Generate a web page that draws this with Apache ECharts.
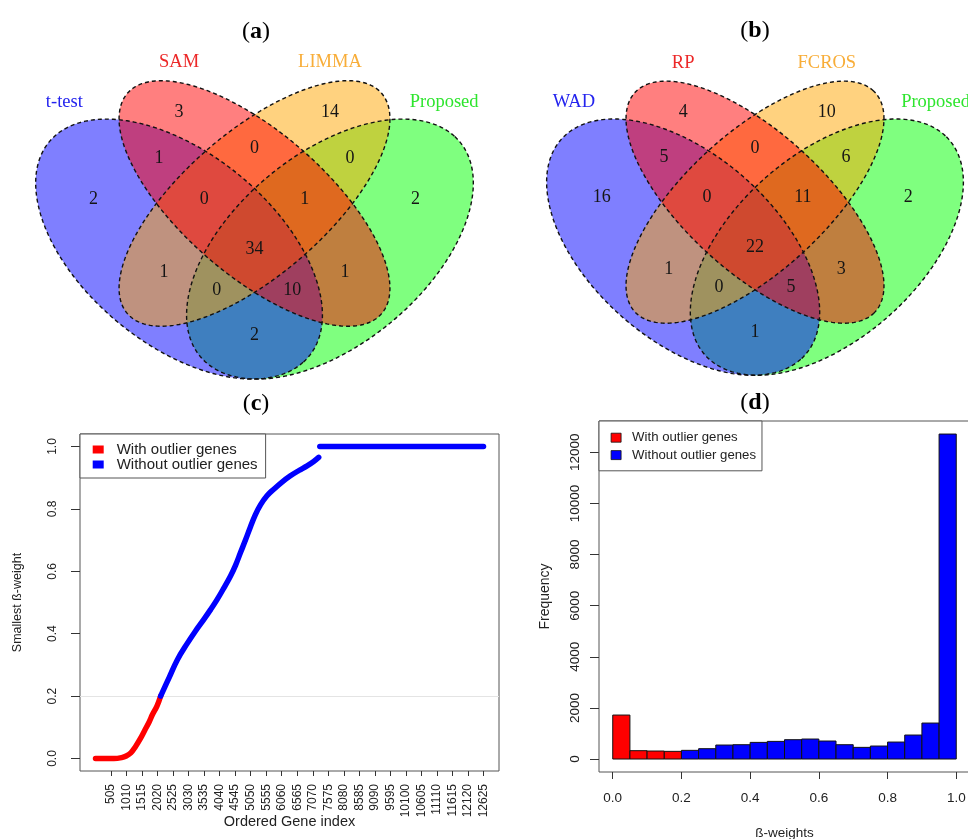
<!DOCTYPE html>
<html><head><meta charset="utf-8">
<script src="https://cdn.jsdelivr.net/npm/echarts@6/dist/echarts.min.js"></script>
<style>html,body{margin:0;padding:0;background:#fff}#c{width:968px;height:839px}</style>
</head><body><div id="c"></div>
<script>
// ---------------- DATA ----------------
// Venn regions: membership code of the 4 sets (set1 set2 set3 set4)
const regionKeys = ['1000','0100','0010','0001','1100','0110','0011','1110','0111','1111','1010','0101','1011','1101','1001'];
const vennACats = ['t-test','SAM','LIMMA','Proposed'];
const vennACounts = [2,3,14,2,1,0,0,0,1,34,1,1,0,10,2];
const vennBCats = ['WAD','RP','FCROS','Proposed'];
const vennBCounts = [16,4,10,2,5,0,6,0,11,22,1,3,0,5,1];

// (c) ordered smallest beta-weights
const outlierIdx = [1,600,850,1000,1150,1300,1450,1600,1750,1850,2000,2120];
const outlierVal = [0,0,0.003,0.008,0.018,0.038,0.062,0.09,0.118,0.14,0.168,0.2];
const inlierIdx = [2120,2400,2661,2987,3250,3526,3750,3961,4180,4394,4560,4719,4880,5044,5200,5369,5580,5801,6070,6343,6620,6886,7100,7263];
const inlierVal = [0.2,0.26,0.316,0.369,0.408,0.446,0.478,0.51,0.547,0.585,0.62,0.66,0.70,0.743,0.781,0.813,0.842,0.863,0.886,0.906,0.923,0.938,0.952,0.965];
const flatIdx = [7300,12625];
const flatVal = [1,1];
const cXTicks = [505,1010,1515,2020,2525,3030,3535,4040,4545,5050,5555,6060,6565,7070,7575,8080,8585,9090,9595,10100,10605,11110,11615,12120,12625];
const cYTicks = [0,0.2,0.4,0.6,0.8,1.0];

// (d) histogram of beta-weights
const binStart = [0.00,0.05,0.10,0.15,0.20,0.25,0.30,0.35,0.40,0.45,0.50,0.55,0.60,0.65,0.70,0.75,0.80,0.85,0.90,0.95];
const binCount = [1720,326,313,300,339,404,547,560,651,690,756,782,704,560,456,508,664,938,1407,12715];
const binOutlier = [1,1,1,1,0,0,0,0,0,0,0,0,0,0,0,0,0,0,0,0];
const dXTicks = [0,0.2,0.4,0.6,0.8,1.0];
const dYTicks = [0,2000,4000,6000,8000,10000,12000];
const seriesNames = ['With outlier genes','Without outlier genes'];

// ---------------- LAYOUT / STYLE ----------------
const ellipseGeom = [
  {cx:0.35, cy:0.47, a:0.35, b:0.20, ang:-45},
  {cx:0.50, cy:0.57, a:0.35, b:0.15, ang:-45},
  {cx:0.50, cy:0.57, a:0.35, b:0.15, ang:45},
  {cx:0.65, cy:0.47, a:0.35, b:0.20, ang:45}
];
const fillOrder = [3,0,2,1];
const setFill = ['rgba(0,0,255,0.5)','rgba(255,0,0,0.5)','rgba(255,165,0,0.5)','rgba(0,255,0,0.5)'];
const catColors = ['#2424ee','#ec2828','#f8ad38','#2ee52e'];
const labelPos = {
  '1000':[0.18,0.58],'0100':[0.35,0.77],'0010':[0.65,0.77],'0001':[0.82,0.58],
  '1100':[0.31,0.67],'0110':[0.5,0.69],'0011':[0.69,0.67],'1110':[0.40,0.58],
  '0111':[0.60,0.58],'1111':[0.5,0.47],'1010':[0.32,0.42],'0101':[0.68,0.42],
  '1011':[0.425,0.38],'1101':[0.575,0.38],'1001':[0.5,0.28]
};
const catPos = [[0.122,0.793],[0.35,0.88],[0.65,0.88],[0.877,0.793]];
const SERIF = '"Liberation Serif", "Times New Roman", serif';
const SANS = '"Liberation Sans", Arial, sans-serif';

function ellipsePoints(api, i) {
  const g = ellipseGeom[i];
  const th = g.ang * Math.PI / 180;
  const pts = [];
  for (let k = 0; k < 240; k++) {
    const t = k / 240 * Math.PI * 2;
    const x = g.cx + g.a * Math.cos(t) * Math.cos(th) - g.b * Math.sin(t) * Math.sin(th);
    const y = g.cy + g.a * Math.cos(t) * Math.sin(th) + g.b * Math.sin(t) * Math.cos(th);
    pts.push(api.coord([x, y]));
  }
  return pts;
}

function vennSeries(gi, counts, cats) {
  return [
    {type:'custom', xAxisIndex:gi, yAxisIndex:gi, silent:true, clip:false, z:1,
     data: fillOrder.map(i => [ellipseGeom[i].cx, ellipseGeom[i].cy, i]),
     renderItem: (p, api) => ({type:'polygon', shape:{points: ellipsePoints(api, api.value(2))},
                               style:{fill: setFill[api.value(2)], stroke:'none'}})},
    {type:'custom', xAxisIndex:gi, yAxisIndex:gi, silent:true, clip:false, z:2,
     data: [0,1,2,3].map(i => [ellipseGeom[i].cx, ellipseGeom[i].cy, i]),
     renderItem: (p, api) => ({type:'polygon', shape:{points: ellipsePoints(api, api.value(2))},
                               style:{fill:'none', stroke:'#111', lineWidth:1.4, lineDash:[4,3]}})},
    {type:'custom', xAxisIndex:gi, yAxisIndex:gi, silent:true, clip:false, z:3,
     data: regionKeys.map((k, i) => [labelPos[k][0], labelPos[k][1], counts[i]]),
     renderItem: (p, api) => { const c = api.coord([api.value(0), api.value(1)]);
       return {type:'text', x:c[0], y:c[1], style:{text:String(api.value(2)), fill:'#151515',
         font:'18px ' + SERIF, align:'center', verticalAlign:'middle'}}; }},
    {type:'custom', xAxisIndex:gi, yAxisIndex:gi, silent:true, clip:false, z:3,
     data: cats.map((c, i) => [catPos[i][0], catPos[i][1], i]),
     renderItem: (p, api) => { const c = api.coord([api.value(0), api.value(1)]); const i = api.value(2);
       return {type:'text', x:c[0], y:c[1], style:{text:cats[i], fill:catColors[i],
         font:'18.5px ' + SERIF, align:'center', verticalAlign:'middle'}}; }}
  ];
}

function histSeries(flag, name, color) {
  const d = [];
  binStart.forEach((s, i) => { if (binOutlier[i] === flag) d.push([s, s + 0.05, binCount[i]]); });
  return {type:'custom', name:name, xAxisIndex:3, yAxisIndex:3, silent:true, z:2,
    itemStyle:{color:color},
    data:d,
    renderItem: (p, api) => {
      const a = api.coord([api.value(0), api.value(2)]);
      const b = api.coord([api.value(1), 0]);
      return {type:'rect', shape:{x:a[0], y:a[1], width:b[0]-a[0], height:b[1]-a[1]},
              style:{fill:color, stroke:'#111', lineWidth:1}};
    }};
}

const hiddenAxis = (gi) => ({gridIndex:gi, type:'value', min:0, max:1, show:false});
const panelTitle = (x, y, letter) => ({type:'text', x:x, y:y,
  style:{text:'{p|(}{b|' + letter + '}{p|)}', align:'center', verticalAlign:'middle',
    rich:{p:{font:'24px ' + SERIF, fill:'#000'}, b:{font:'bold 24px ' + SERIF, fill:'#000'}}}});

const option = {
  animation:false,
  backgroundColor:'#fff',
  graphic:[panelTitle(256, 32, 'a'), panelTitle(755, 31, 'b'), panelTitle(256, 403.5, 'c'), panelTitle(755, 402.5, 'd')],
  grid:[
    {left:3, top:7.4, width:503, height:456, show:false, containLabel:false, outerBoundsMode:'none'},
    {left:515.5, top:8.9, width:479, height:449.5, show:false, containLabel:false, outerBoundsMode:'none'},
    {left:80, top:434, width:419, height:337, show:true, borderColor:'#555', borderWidth:1, backgroundColor:'transparent', containLabel:false, outerBoundsMode:'none'},
    {left:599, top:421, width:371, height:351, show:true, borderColor:'#555', borderWidth:1, backgroundColor:'transparent', containLabel:false, outerBoundsMode:'none'}
  ],
  xAxis:[
    hiddenAxis(0), hiddenAxis(1),
    {gridIndex:2, type:'value', min:-504, max:13130,
     axisLine:{show:false, onZero:false}, splitLine:{show:false},
     axisTick:{show:true, customValues:cXTicks, length:5, lineStyle:{color:'#333'}},
     axisLabel:{show:true, customValues:cXTicks, rotate:90, margin:13, fontSize:12, fontFamily:SANS, color:'#222',
                formatter:v => String(Math.round(v))},
     name:'Ordered Gene index', nameLocation:'middle', nameGap:43, nameMoveOverlap:false,
     nameTextStyle:{fontSize:14.5, fontFamily:SANS, color:'#222'}},
    {gridIndex:3, type:'value', min:-0.04, max:1.04,
     axisLine:{show:false, onZero:false}, splitLine:{show:false},
     axisTick:{show:true, customValues:dXTicks, length:7, lineStyle:{color:'#333'}},
     axisLabel:{show:true, customValues:dXTicks, margin:19, fontSize:13.5, fontFamily:SANS, color:'#222',
                formatter:v => v.toFixed(1)},
     name:'ß-weights', nameLocation:'middle', nameGap:54, nameMoveOverlap:false,
     nameTextStyle:{fontSize:13.5, fontFamily:SANS, color:'#222'}}
  ],
  yAxis:[
    hiddenAxis(0), hiddenAxis(1),
    {gridIndex:2, type:'value', min:-0.04, max:1.04,
     axisLine:{show:false, onZero:false}, splitLine:{show:false},
     axisTick:{show:true, customValues:cYTicks, length:9, lineStyle:{color:'#333'}},
     axisLabel:{show:true, customValues:cYTicks, rotate:90, margin:21, fontSize:12, fontFamily:SANS, color:'#222',
                formatter:v => v.toFixed(1)},
     name:'Smallest ß-weight', nameLocation:'middle', nameGap:56, nameMoveOverlap:false,
     nameTextStyle:{fontSize:12.5, fontFamily:SANS, color:'#222'}},
    {gridIndex:3, type:'value', min:-508, max:13226,
     axisLine:{show:false, onZero:false}, splitLine:{show:false},
     axisTick:{show:true, customValues:dYTicks, length:9, lineStyle:{color:'#333'}},
     axisLabel:{show:true, customValues:dYTicks, rotate:90, margin:17, fontSize:13.5, fontFamily:SANS, color:'#222',
                formatter:v => String(v)},
     name:'Frequency', nameLocation:'middle', nameGap:47, nameMoveOverlap:false,
     nameTextStyle:{fontSize:14, fontFamily:SANS, color:'#222'}}
  ],
  legend:[
    {left:80, top:434, orient:'vertical', selectedMode:false, icon:'rect',
     padding:[8,8,6,12.7], itemWidth:11, itemHeight:8, itemGap:0,
     borderColor:'#555', borderWidth:1, backgroundColor:'#fff',
     textStyle:{fontFamily:SANS, fontSize:15, color:'#222', lineHeight:14, padding:[0,0,0,8]},
     data:[{name:seriesNames[0], itemStyle:{color:'#ff0000'}}, {name:seriesNames[1], itemStyle:{color:'#0000ff'}}]},
    {left:599, top:421, orient:'vertical', selectedMode:false, icon:'rect',
     padding:[8,6,7,11.7], itemWidth:10, itemHeight:9, itemGap:0,
     borderColor:'#555', borderWidth:1, backgroundColor:'#fff',
     textStyle:{fontFamily:SANS, fontSize:13.2, color:'#222', lineHeight:17.4, padding:[0,0,0,6]},
     data:[{name:seriesNames[0], itemStyle:{color:'#ff0000', borderColor:'#111', borderWidth:0.8}},
           {name:seriesNames[1], itemStyle:{color:'#0000ff', borderColor:'#111', borderWidth:0.8}}]}
  ],
  series:[
    ...vennSeries(0, vennACounts, vennACats),
    ...vennSeries(1, vennBCounts, vennBCats),
    {type:'line', name:seriesNames[0], xAxisIndex:2, yAxisIndex:2, z:3,
     data: outlierIdx.map((x, i) => [x, outlierVal[i]]), showSymbol:false, smooth:0.4,
     lineStyle:{color:'#ff0000', width:5.5, cap:'round', join:'round'}, itemStyle:{color:'#ff0000'},
     markLine:{silent:true, symbol:'none', label:{show:false}, z:1,
       lineStyle:{color:'#e4e4e4', width:1, type:'solid'}, data:[{yAxis:0.2}]}},
    {type:'line', name:seriesNames[1], xAxisIndex:2, yAxisIndex:2, z:4,
     data: inlierIdx.map((x, i) => [x, inlierVal[i]]), showSymbol:false, smooth:0.4,
     lineStyle:{color:'#0000ff', width:5.5, cap:'round', join:'round'}, itemStyle:{color:'#0000ff'}},
    {type:'line', name:seriesNames[1], xAxisIndex:2, yAxisIndex:2, z:4,
     data: flatIdx.map((x, i) => [x, flatVal[i]]), showSymbol:false,
     lineStyle:{color:'#0000ff', width:5.5, cap:'round', join:'round'}, itemStyle:{color:'#0000ff'}},
    histSeries(1, seriesNames[0], '#ff0000'),
    histSeries(0, seriesNames[1], '#0000ff')
  ]
};
const chart = echarts.init(document.getElementById('c'));
chart.setOption(option);
</script>
</body></html>
